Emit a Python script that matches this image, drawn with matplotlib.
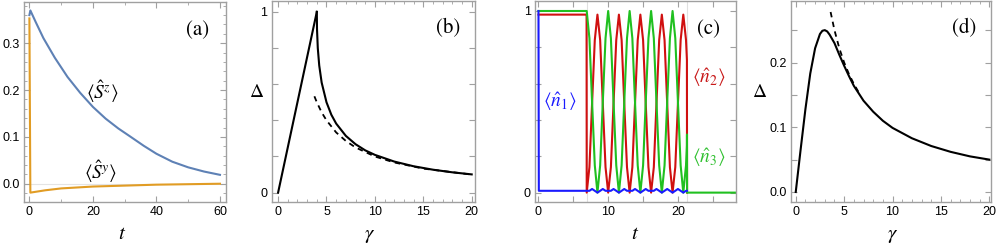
import matplotlib
matplotlib.use("Agg")
import matplotlib.pyplot as plt
from matplotlib.ticker import MultipleLocator, FixedLocator

plt.rcParams['font.family'] = ['Liberation Sans', 'DejaVu Sans']
plt.rcParams['mathtext.fontset'] = 'stix'

W, H = 996, 245

# ---- panel (a): spin expectation values vs t
ta_z = [0, 0.3, 2, 4.4, 8, 12, 16, 20, 24, 28, 31.7, 36, 40, 45, 50, 55, 60]
sz = [0.360, 0.370, 0.345, 0.311, 0.269, 0.228, 0.194, 0.164, 0.139, 0.118, 0.101,
      0.081, 0.064, 0.047, 0.035, 0.026, 0.019]
ta_y = [0, 0.3, 5, 10, 15, 20, 30, 40, 50, 60]
sy = [0.353, -0.019, -0.014, -0.010, -0.008, -0.006, -0.004, -0.002, -0.001, 0.0]

# ---- panel (b): gap vs gamma
gb_lin = [0, 4]
db_lin = [0, 1]
gb = [4.0, 4.02, 4.1, 4.25, 4.5, 5, 5.5, 6, 7, 8, 9, 10, 12, 14, 16, 18, 20]
db = [1.0, 0.905, 0.80, 0.703, 0.609, 0.50, 0.431, 0.382, 0.314, 0.268, 0.234, 0.209, 0.172, 0.146, 0.127, 0.1125, 0.101]
gb_asym = [3.75, 4, 4.5, 5, 6, 7, 8, 10, 12, 15, 20]
db_asym = [0.533, 0.50, 0.444, 0.40, 0.333, 0.286, 0.25, 0.20, 0.167, 0.133, 0.10]

# ---- panel (c): occupations vs t
tc_osc = [6.92, 7.31, 7.69, 8.08, 8.46, 8.85, 9.23, 9.62, 10.00, 10.39, 10.77, 11.16,
          11.54, 11.93, 12.31, 12.70, 13.08, 13.47, 13.85, 14.24, 14.62, 15.01, 15.39, 15.78,
          16.16, 16.55, 16.93, 17.32, 17.70, 18.09, 18.47, 18.86, 19.24, 19.63, 20.01, 20.40,
          20.78, 21.17]
n2_osc = [0, 0.14, 0.49, 0.84, 0.98, 0.84, 0.49, 0.14] * 4 + [0, 0.14, 0.49, 0.84, 0.98, 0.84]
n3_osc = [1, 0.85, 0.50, 0.15, 0, 0.15, 0.50, 0.85] * 4 + [1, 0.85, 0.50, 0.15, 0, 0.15]
n1_osc = [0.01, 0.01, 0.02, 0.01, 0.0, 0.01, 0.02, 0.01] * 4 + [0.0, 0.01, 0.02, 0.01, 0.0, 0.01]
tc1 = [0, 0.05, 6.9] + tc_osc + [21.3]
n1 = [1.0, 0.01, 0.01] + n1_osc + [0.01]
tc2 = [0, 6.9] + tc_osc + [21.3, 21.31, 21.32]
n2 = [0.98, 0.98] + n2_osc + [0.73, 0.32, 0.0]
tc3 = [0, 6.9] + tc_osc + [21.3, 21.31, 21.32, 28.5]
n3 = [1.0, 1.0] + n3_osc + [0.26, 0.32, 0.0, 0.0]
t_switch = [6.92, 21.3]

# ---- panel (d): gap vs gamma
gd = [0, 0.5, 1.0, 1.5, 2.0, 2.5, 2.75, 3.0, 3.25, 3.5, 4.0, 4.5, 5.0, 5.5, 6, 7, 8, 9, 10,
      12, 14, 16, 18, 20]
dd = [0, 0.065, 0.128, 0.183, 0.222, 0.244, 0.249, 0.250, 0.248, 0.243, 0.230, 0.212, 0.195,
      0.179, 0.164, 0.141, 0.124, 0.110, 0.099, 0.083, 0.071, 0.062, 0.055, 0.050]
gd_asym = [3.6, 4, 4.5, 5, 5.5, 6, 6.5]
dd_asym = [0.278, 0.25, 0.222, 0.20, 0.182, 0.167, 0.154]

frame_col = '#a0a0a0'


def box(l, r, t, b):
    return [l / W, 1 - b / H, (r - l) / W, (b - t) / H]


def frame(ax):
    for s in ax.spines.values():
        s.set_color(frame_col)
        s.set_linewidth(1.0)
    ax.tick_params(which='both', direction='in', top=True, right=True,
                   color=frame_col, labelsize=9, pad=3)
    ax.tick_params(which='major', length=4, width=0.8)
    ax.tick_params(which='minor', length=2.5, width=0.6)


def ftext(x, y, s, **kw):
    fig.text(x / W, 1 - y / H, s, ha='center', va='center', **kw)


fig = plt.figure(figsize=(W / 100, H / 100), dpi=100)

# (a)
ax = fig.add_axes(box(24, 226, 2, 202))
ax.axhline(0, color='#e4e4e4', lw=0.8, zorder=0)
ax.plot(ta_z, sz, color='#5E81B5', lw=1.5)
ax.plot(ta_y, sy, color='#E19C24', lw=1.5)
ax.set_xlim(-1.7, 61.9)
ax.set_ylim(-0.039, 0.388)
ax.xaxis.set_major_locator(FixedLocator([0, 20, 40, 60]))
ax.xaxis.set_minor_locator(FixedLocator([10, 30, 50]))
ax.yaxis.set_major_locator(FixedLocator([0.0, 0.1, 0.2, 0.3]))
ax.yaxis.set_minor_locator(MultipleLocator(0.02))
ax.set_yticklabels(['0.0', '0.1', '0.2', '0.3'])
frame(ax)

# (b)
ax = fig.add_axes(box(271.7, 475, 1, 201.7))
ax.plot(gb_asym, db_asym, color='black', lw=1.3, ls=(0, (3, 2.5)))
ax.plot(gb_lin, db_lin, color='black', lw=1.5)
ax.plot(gb, db, color='black', lw=1.5)
ax.set_xlim(-0.66, 20.34)
ax.set_ylim(-0.05, 1.06)
ax.xaxis.set_major_locator(MultipleLocator(5))
ax.xaxis.set_minor_locator(MultipleLocator(1))
ax.yaxis.set_major_locator(FixedLocator([0, 1]))
ax.yaxis.set_minor_locator(FixedLocator([0.2, 0.4, 0.6, 0.8]))
frame(ax)
ax.tick_params(axis='y', which='minor', length=4, width=0.8)

# (c)
ax = fig.add_axes(box(535, 735.7, 1, 201.7))
for ts in t_switch:
    ax.axvline(ts, color='#e0e0e0', lw=0.8, zorder=0)
ax.plot(tc2, n2, color='#d01010', lw=1.5)
ax.plot(tc3, n3, color='#20c020', lw=1.5)
ax.plot(tc1, n1, color='#1a1aff', lw=1.5)
ax.set_xlim(-0.5, 28.3)
ax.set_ylim(-0.05, 1.055)
ax.xaxis.set_major_locator(FixedLocator([0, 10, 20]))
ax.xaxis.set_minor_locator(FixedLocator([5, 15, 25]))
ax.yaxis.set_major_locator(FixedLocator([0, 1]))
ax.yaxis.set_minor_locator(FixedLocator([0.2, 0.4, 0.6, 0.8]))
frame(ax)
ax.tick_params(which='minor', length=4, width=0.8)

# (d)
ax = fig.add_axes(box(791, 991, 1, 201.7))
ax.plot(gd_asym, dd_asym, color='black', lw=1.3, ls=(0, (3, 2.5)))
ax.plot(gd, dd, color='black', lw=1.5)
ax.set_xlim(-0.49, 20.17)
ax.set_ylim(-0.015, 0.295)
ax.xaxis.set_major_locator(MultipleLocator(5))
ax.xaxis.set_minor_locator(MultipleLocator(1))
ax.yaxis.set_major_locator(FixedLocator([0.0, 0.1, 0.2]))
ax.yaxis.set_minor_locator(FixedLocator([0.05, 0.15, 0.25]))
ax.set_yticklabels(['0.0', '0.1', '0.2'])
frame(ax)
ax.tick_params(axis='y', which='minor', length=4, width=0.8)

# panel tags, axis labels, curve labels
tag = dict(family='STIXGeneral', fontsize=15)
ftext(197.5, 30, '(a)', **tag)
ftext(448.5, 28, '(b)', **tag)
ftext(709, 29, '(c)', **tag)
ftext(964, 28, '(d)', **tag)

ftext(121.7, 233, r'$t$', fontsize=15)
ftext(370, 235, r'$\gamma$', fontsize=15)
ftext(256.7, 92, r'$\Delta$', fontsize=14)
ftext(635, 233, r'$t$', fontsize=15)
ftext(760, 92, r'$\Delta$', fontsize=14)
ftext(893, 235, r'$\gamma$', fontsize=15)

ftext(102, 92, r'$\langle\hat{S}^z\rangle$', fontsize=14)
ftext(101, 172, r'$\langle\hat{S}^y\rangle$', fontsize=14)
ftext(560, 102, r'$\langle\hat{n}_1\rangle$', fontsize=14, color='#1a1aff')
ftext(709, 78, r'$\langle\hat{n}_2\rangle$', fontsize=14, color='#c81818')
ftext(709, 158, r'$\langle\hat{n}_3\rangle$', fontsize=14, color='#30c030')

fig.savefig('out.png', dpi=100)
